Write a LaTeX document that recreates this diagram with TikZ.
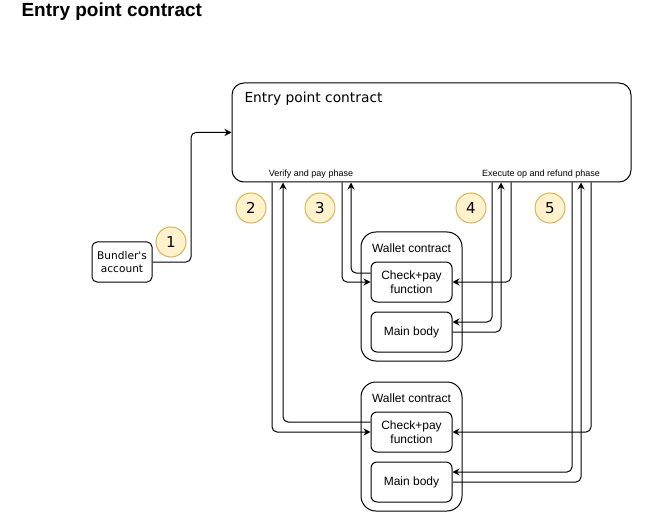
\documentclass[tikz,border=0pt]{standalone}
\usepackage{fontspec}
\setmainfont{Liberation Sans}
\newfontfamily\dejavu{DejaVu Sans}
\usepackage{tikz}
\usetikzlibrary{arrows.meta, positioning, calc}
\definecolor{numfill}{HTML}{FFF2CC}
\definecolor{numdraw}{HTML}{D6B656}

\begin{document}
\begin{tikzpicture}[x=1pt, y=-1pt, line width=1pt,
		box/.style={draw, rounded corners=#1, inner sep=0pt},
		box/.default=6pt,
		num/.style={circle, draw=numdraw, fill=numfill, minimum size=30pt, inner sep=0pt, font=\dejavu\fontsize{15}{15}\selectfont},
		conn/.style={rounded corners=5pt, -{Stealth[length=7pt, width=7pt]}},
		txt/.style={font=\fontsize{12}{14}\selectfont, align=center}]
	\useasboundingbox (0,0) rectangle (650,529);
	\node[font=\bfseries\fontsize{19}{19}\selectfont, anchor=west, inner sep=0pt] (title) at (21,12) {Entry point contract};

	% entry point contract
	\node[box=12pt, minimum width=399pt, minimum height=99pt] (entry) at (431.5,132.5) {};
	\node[font=\dejavu\fontsize{13.8}{15}\selectfont, anchor=west, inner sep=0pt] (entrylbl) at (244,99) {Entry point contract};
	\node[font=\fontsize{9}{10}\selectfont] (verify) at (311,174) {Verify and pay phase};
	\node[font=\fontsize{9}{10}\selectfont] (execute) at (541,174) {Execute op and refund phase};

	% bundler
	\node[box=5pt, minimum width=60pt, minimum height=40pt, align=center, font=\dejavu\fontsize{10.6}{13.5}\selectfont] (bundler) at (122,262) {Bundler's\\account};

	% wallets
	\node[box=15pt, minimum width=101pt, minimum height=129pt] (wal1) at (411.5,296.5) {};
	\node[box=15pt, minimum width=101pt, minimum height=129pt] (wal2) at (411.5,446.5) {};
	\node[txt] (wal1lbl) at (411.5,248) {Wallet contract};
	\node[txt] (wal2lbl) at (411.5,398) {Wallet contract};
	\node[box, txt, minimum width=81pt, minimum height=40pt] (chk1) at (411.5,282) {Check+pay\\function};
	\node[box, txt, minimum width=81pt, minimum height=40pt] (body1) at (411.5,332) {Main body};
	\node[box, txt, minimum width=81pt, minimum height=40pt] (chk2) at (411.5,432) {Check+pay\\function};
	\node[box, txt, minimum width=81pt, minimum height=40pt] (body2) at (411.5,482) {Main body};

	% step numbers
	\node[num] (n1) at (171,242) {1};
	\node[num] (n2) at (251,208) {2};
	\node[num] (n3) at (320,208) {3};
	\node[num] (n4) at (471,208) {4};
	\node[num] (n5) at (550,208) {5};

	% lanes
	\coordinate (l1) at (191,0);
	\coordinate (l2a) at (272,0);
	\coordinate (l2b) at (283,0);
	\coordinate (l3a) at (342,0);
	\coordinate (l3b) at (351,0);
	\coordinate (l4a) at (492,0);
	\coordinate (l4b) at (501,0);
	\coordinate (l4c) at (511,0);
	\coordinate (l5a) at (572,0);
	\coordinate (l5b) at (581,0);
	\coordinate (l5c) at (591,0);

	% 1
	\draw[conn] (bundler.east) -| (l1 |- entry.west) -- (entry.west);
	% 2
	\draw[conn] (entry.south -| l2a) |- (chk2.west);
	\draw[conn] ($(chk2.west)+(0,-10)$) -| (entry.south -| l2b);
	% 3
	\draw[conn] (entry.south -| l3a) |- (chk1.west);
	\draw[conn] ($(chk1.west)+(0,-9)$) -| (entry.south -| l3b);
	% 4
	\draw[conn] (entry.south -| l4c) |- (chk1.east);
	\draw[conn] (entry.south -| l4a) |- ($(body1.east)+(0,-10)$);
	\draw[conn] (body1.east) -| (entry.south -| l4b);
	% 5
	\draw[conn] (entry.south -| l5c) |- (chk2.east);
	\draw[conn] (entry.south -| l5a) |- ($(body2.east)+(0,-10)$);
	\draw[conn] (body2.east) -| (entry.south -| l5b);
\end{tikzpicture}
\end{document}
